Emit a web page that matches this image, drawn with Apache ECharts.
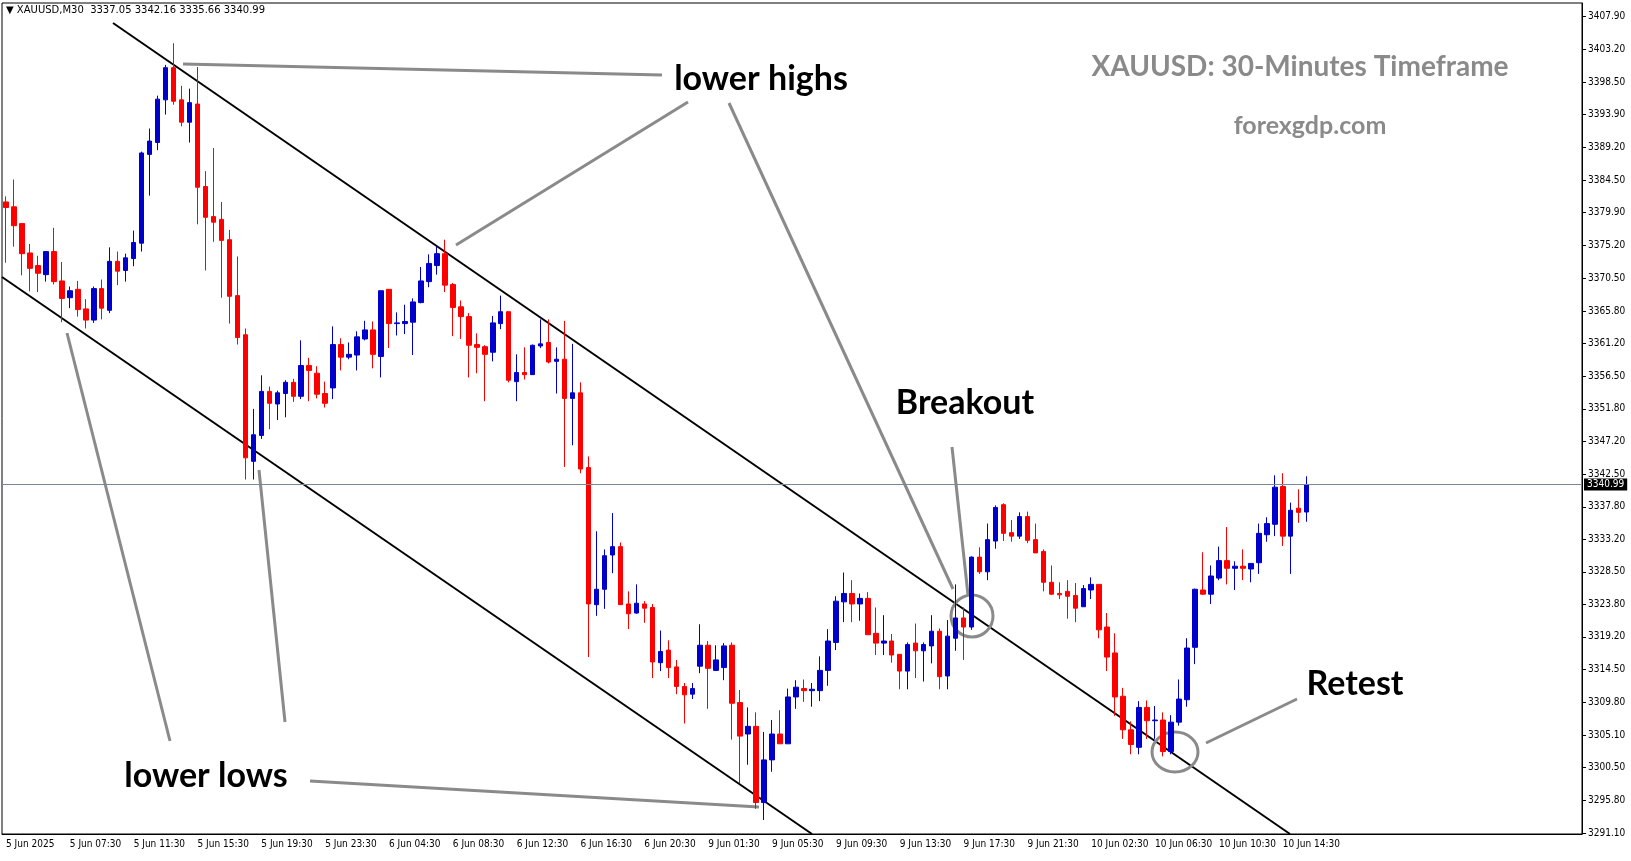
<!DOCTYPE html>
<html><head><meta charset="utf-8">
<script src="https://cdn.jsdelivr.net/npm/echarts@6/dist/echarts.min.js"></script>
<style>html,body{margin:0;padding:0;background:#fff}#c{width:1631px;height:861px}</style>
</head><body><div id="c"></div>
<script>
const opens=[3381.4,3380.7,3378.3,3374.1,3372.3,3371.0,3374.3,3370.1,3367.7,3368.9,3366.1,3364.5,3369.0,3365.9,3372.9,3371.6,3373.3,3375.5,3388.2,3389.9,3396.0,3400.6,3396.0,3392.8,3395.4,3383.6,3379.3,3378.9,3376.0,3368.0,3362.4,3344.3,3348.0,3354.3,3352.5,3354.0,3355.6,3353.6,3358.0,3356.9,3354.0,3354.8,3361.0,3359.2,3359.5,3361.8,3363.1,3359.3,3368.9,3364.0,3364.0,3364.2,3367.0,3370.0,3372.3,3374.0,3369.6,3366.4,3365.0,3361.0,3360.7,3359.9,3364.0,3365.7,3355.7,3357.0,3356.7,3360.8,3361.3,3358.6,3358.9,3353.3,3354.1,3343.4,3323.8,3326.0,3330.9,3332.1,3323.9,3322.6,3323.9,3323.4,3315.5,3317.3,3314.9,3312.1,3311.0,3315.0,3318.0,3314.4,3314.8,3318.0,3309.8,3305.3,3306.4,3295.5,3301.6,3305.3,3303.9,3310.6,3311.8,3311.5,3311.5,3314.4,3318.4,3324.2,3325.4,3323.9,3324.7,3319.7,3318.3,3318.6,3316.7,3314.3,3318.3,3317.2,3317.9,3320.0,3313.6,3319.0,3321.9,3320.6,3330.6,3328.5,3332.9,3338.1,3334.1,3333.6,3336.4,3333.1,3331.4,3327.0,3325.4,3325.7,3325.1,3323.5,3325.9,3326.7,3320.6,3316.9,3310.7,3305.9,3303.4,3309.1,3307.2,3307.3,3302.8,3307.0,3310.2,3317.7,3325.9,3325.3,3327.6,3330.1,3329.0,3329.3,3328.9,3329.8,3333.8,3335.3,3340.7,3333.6,3337.6,3337.05];
const closes=[3380.6,3378.0,3374.0,3371.9,3371.2,3374.3,3370.0,3367.6,3368.7,3366.0,3364.5,3369.0,3366.2,3372.9,3371.5,3373.4,3375.6,3388.4,3390.1,3396.1,3400.6,3395.8,3392.8,3395.6,3383.5,3379.2,3378.5,3375.9,3367.9,3362.0,3344.8,3348.1,3354.3,3352.6,3354.1,3355.6,3353.6,3358.0,3357.3,3353.9,3352.6,3361.0,3359.2,3359.6,3362.1,3363.1,3359.6,3368.7,3364.0,3364.1,3364.3,3367.1,3370.1,3372.6,3374.0,3369.5,3366.3,3365.0,3360.9,3360.6,3359.6,3364.1,3365.7,3355.9,3357.0,3356.7,3360.9,3361.1,3358.5,3358.9,3353.3,3354.1,3343.2,3323.9,3326.0,3330.8,3332.1,3323.8,3322.5,3324.0,3323.3,3315.6,3317.1,3314.8,3312.1,3310.9,3311.8,3318.0,3314.7,3315.9,3317.9,3309.7,3305.0,3306.4,3295.5,3301.6,3305.3,3303.9,3310.6,3312.0,3311.5,3311.7,3314.4,3318.6,3324.3,3325.4,3323.9,3324.7,3319.5,3318.3,3318.6,3316.6,3314.3,3318.1,3317.2,3318.1,3320.0,3313.5,3319.3,3321.9,3320.6,3330.6,3328.5,3333.1,3337.7,3334.0,3333.6,3336.4,3333.0,3331.2,3327.0,3325.3,3325.2,3325.0,3323.3,3326.1,3326.7,3320.2,3316.3,3310.6,3305.9,3303.8,3309.1,3307.2,3307.3,3302.8,3307.0,3310.3,3317.6,3326.0,3325.3,3327.9,3330.1,3329.0,3329.3,3329.0,3329.7,3334.0,3335.4,3340.6,3333.6,3337.3,3337.0,3340.99];
const lows=[3372.7,3375.0,3370.9,3368.6,3368.5,3370.0,3369.6,3364.2,3366.2,3365.0,3363.3,3364.1,3364.6,3365.5,3369.5,3370.0,3372.2,3374.3,3382.3,3388.8,3393.9,3395.3,3392.2,3389.9,3378.2,3371.6,3375.7,3367.7,3364.0,3361.0,3341.7,3341.7,3347.5,3348.9,3350.2,3350.6,3352.8,3353.2,3352.9,3353.3,3352.0,3353.2,3357.3,3358.9,3357.3,3361.6,3357.6,3356.3,3360.5,3362.3,3362.5,3359.5,3366.9,3369.2,3371.0,3368.5,3362.2,3361.8,3356.3,3356.9,3352.9,3358.6,3363.2,3355.6,3352.9,3356.0,3356.7,3360.5,3358.3,3354.0,3343.5,3346.6,3342.6,3316.3,3322.2,3323.2,3328.3,3323.8,3320.3,3322.5,3321.2,3313.3,3314.3,3313.3,3311.0,3306.8,3310.3,3314.0,3308.9,3314.3,3313.0,3304.5,3298.3,3300.9,3294.6,3293.0,3299.9,3303.9,3303.9,3308.9,3309.9,3309.2,3310.0,3312.2,3317.3,3321.3,3321.3,3321.5,3319.5,3316.6,3316.6,3315.5,3311.7,3311.7,3313.3,3312.8,3315.4,3311.7,3311.7,3317.2,3315.9,3320.2,3328.2,3327.3,3331.8,3332.9,3332.8,3333.2,3332.6,3331.2,3325.7,3325.2,3324.6,3321.8,3321.3,3323.5,3324.6,3319.0,3314.3,3307.9,3304.6,3302.4,3302.4,3304.6,3304.6,3302.1,3302.4,3306.5,3309.2,3315.3,3325.2,3323.9,3327.3,3326.7,3325.9,3327.3,3327.0,3328.2,3332.8,3333.6,3332.2,3328.2,3335.5,3335.66];
const highs=[3382.2,3384.6,3378.3,3375.4,3373.7,3374.3,3377.7,3372.8,3369.3,3370.1,3367.5,3369.3,3370.3,3374.9,3374.3,3374.0,3377.3,3388.6,3391.9,3396.6,3401.0,3404.1,3398.0,3397.6,3400.7,3385.8,3389.1,3381.4,3377.4,3373.6,3363.3,3351.8,3356.6,3355.0,3354.4,3355.9,3356.1,3361.6,3359.1,3357.9,3355.7,3363.6,3361.9,3361.3,3362.9,3364.4,3364.3,3368.7,3368.9,3365.6,3366.7,3367.6,3372.1,3373.9,3375.0,3376.0,3369.8,3367.3,3365.5,3362.6,3360.9,3365.1,3368.0,3365.7,3359.6,3360.6,3361.0,3364.6,3364.6,3360.6,3364.4,3361.1,3355.6,3345.0,3334.3,3331.7,3336.9,3332.7,3325.7,3326.7,3324.3,3323.9,3320.1,3318.7,3315.9,3312.6,3312.6,3321.0,3318.6,3318.0,3318.3,3318.4,3311.6,3309.1,3308.4,3305.6,3307.3,3308.7,3311.8,3313.0,3313.1,3312.6,3316.4,3320.3,3325.0,3328.4,3327.3,3325.4,3325.6,3323.4,3322.3,3319.6,3316.7,3318.4,3321.1,3318.4,3322.3,3320.4,3321.6,3326.7,3323.4,3330.7,3332.0,3335.4,3338.0,3338.3,3335.9,3337.0,3337.1,3335.4,3331.7,3329.4,3327.0,3327.3,3326.9,3326.6,3327.7,3326.7,3322.6,3319.7,3311.9,3307.1,3310.0,3310.1,3309.3,3308.4,3308.0,3313.1,3319.0,3326.1,3331.3,3329.4,3332.1,3334.9,3330.0,3331.7,3329.7,3335.4,3336.3,3342.3,3342.6,3338.4,3340.3,3342.16];
const tickLabels=['5 Jun 2025','5 Jun 07:30','5 Jun 11:30','5 Jun 15:30','5 Jun 19:30','5 Jun 23:30','6 Jun 04:30','6 Jun 08:30','6 Jun 12:30','6 Jun 16:30','6 Jun 20:30','9 Jun 01:30','9 Jun 05:30','9 Jun 09:30','9 Jun 13:30','9 Jun 17:30','9 Jun 21:30','10 Jun 02:30','10 Jun 06:30','10 Jun 10:30','10 Jun 14:30'];
const yTicks=[3407.90,3403.20,3398.50,3393.90,3389.20,3384.50,3379.90,3375.20,3370.50,3365.80,3361.20,3356.50,3351.80,3347.20,3342.50,3337.80,3333.20,3328.50,3323.80,3319.20,3314.50,3309.80,3305.10,3300.50,3295.80,3291.10];
const lastPrice=3340.99;
const header='\u25BC XAUUSD,M30  3337.05 3342.16 3335.66 3340.99';
const slots=198;

const cats=[];for(let i=0;i<slots;i++)cats.push(i);
const ohlc=opens.map((o,i)=>[o,closes[i],lows[i],highs[i]]);
const chart=echarts.init(document.getElementById('c'));
const G='#8a8a8a';
const F="Lato, 'Open Sans', sans-serif";
const AF="'Liberation Sans Narrow','DejaVu Sans Condensed','Liberation Sans',sans-serif";
const txt=(x,y,t,size,color)=>({type:'text',x:x,y:y,style:{text:t,font:'bold '+size+'px '+F,fill:color,align:'center',verticalAlign:'middle'}});
const ln=(x1,y1,x2,y2,c,w)=>({type:'line',shape:{x1,y1,x2,y2},style:{stroke:c,lineWidth:w}});
chart.setOption({
  animation:false,
  grid:{left:2,right:49,top:3,bottom:27,show:true,borderColor:'#000',borderWidth:1},
  xAxis:{type:'category',data:cats,boundaryGap:true,
    axisLine:{lineStyle:{color:'#000'}},
    axisTick:{alignWithLabel:true,interval:(i)=>i%8===0&&i/8<tickLabels.length,lineStyle:{color:'#000'},length:4},
    axisLabel:{interval:(i)=>i%8===0&&i/8<tickLabels.length,formatter:(v,i)=>tickLabels[i/8]||'',align:'left',margin:5,fontSize:10,fontFamily:AF,color:'#000'},
    splitLine:{show:false}},
  yAxis:{type:'value',position:'right',min:3291.0,max:3409.85,scale:true,
    axisLine:{show:true,lineStyle:{color:'#000'}},
    axisTick:{show:true,customValues:yTicks,length:4,lineStyle:{color:'#000'}},
    axisLabel:{customValues:yTicks,formatter:(v)=>v.toFixed(2),fontSize:10,fontFamily:AF,color:'#000',margin:6},
    splitLine:{show:false}},
  series:[{type:'candlestick',data:ohlc,barWidth:5,
    itemStyle:{color:'#0000CD',color0:'#FF0000',borderColor:'#0000CD',borderColor0:'#FF0000',borderWidth:1},
    markLine:{silent:true,symbol:'none',data:[{yAxis:lastPrice}],lineStyle:{color:'#778899',width:1,type:'solid'},
      label:{position:'end',formatter:lastPrice.toFixed(2),backgroundColor:'#000',color:'#fff',fontSize:10,fontFamily:AF,padding:[1,3],distance:2}}}],
  graphic:[
    {type:'text',x:6,y:5,style:{text:header,font:"10px 'Liberation Sans Narrow','DejaVu Sans'",fill:'#000'}},
    ln(113,23,1290,834,'#000',2),
    ln(2,277,812,834,'#000',2),
    ln(183,64,662,75,G,3),
    ln(456,245,688,102,G,3),
    ln(729,103,953,589,G,3),
    ln(952,447,968,595,G,3),
    ln(1206,743,1297,699,G,3),
    ln(67,333,170,741,G,3),
    ln(259,470,285,722,G,3),
    ln(310,781,759,807,G,3),
    {type:'circle',shape:{cx:972,cy:616,r:21},style:{fill:'none',stroke:G,lineWidth:3}},
    {type:'ellipse',shape:{cx:1175,cy:752,rx:23,ry:20},style:{fill:'none',stroke:G,lineWidth:3}},
    txt(761,79,'lower highs',34,'#000'),
    txt(965,403,'Breakout',34,'#000'),
    txt(1355,684,'Retest',34,'#000'),
    txt(206,776,'lower lows',34,'#000'),
    txt(1300,67,'XAUUSD: 30-Minutes Timeframe',28,G),
    txt(1310,126,'forexgdp.com',25,G)
  ]
});
</script></body></html>
